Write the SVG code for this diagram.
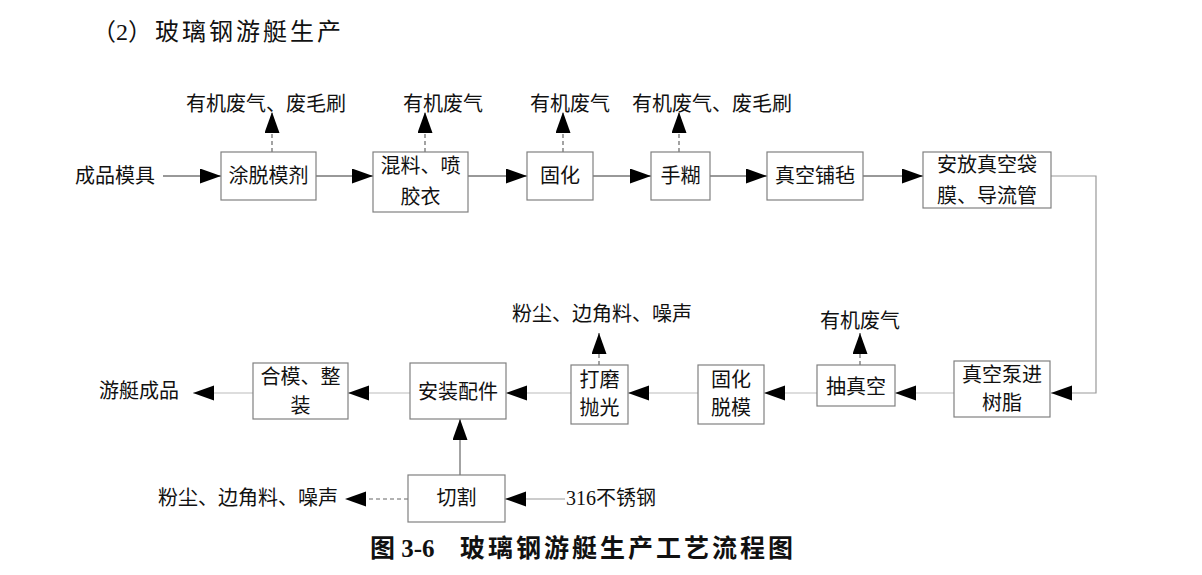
<svg xmlns="http://www.w3.org/2000/svg" width="1202" height="575" viewBox="0 0 1202 575">
<style>
text{font-family:"Liberation Serif","Noto Sans CJK SC",serif;font-size:20px;fill:#111;dominant-baseline:central}
.box{fill:#fff;stroke:#808080;stroke-width:1.2}
.c{text-anchor:middle}
.dk{stroke:#333;stroke-width:1;fill:none}
.lt{stroke:#bbb;stroke-width:1.2;fill:none}
.md{stroke:#999;stroke-width:1.2;fill:none}
.ds{stroke:#666;stroke-width:1.2;fill:none;stroke-dasharray:4 3}
</style>
<defs>
<marker id="ah" markerUnits="userSpaceOnUse" markerWidth="22" markerHeight="16" refX="21" refY="7.5" orient="auto">
<path d="M0,0 L21,7.5 L0,15 z" fill="#000"/>
</marker>
</defs>

<text x="92" y="32" style="font-size:24px">（2）<tspan x="155" style="letter-spacing:3px">玻璃钢游艇生产</tspan></text>

<g id="connectors">
<line class="dk" x1="163" y1="176" x2="221" y2="176" marker-end="url(#ah)"/>
<line class="dk" x1="316" y1="176" x2="373" y2="176" marker-end="url(#ah)"/>
<line class="dk" x1="468" y1="176" x2="527" y2="176" marker-end="url(#ah)"/>
<line class="dk" x1="593" y1="176" x2="651" y2="176" marker-end="url(#ah)"/>
<line class="dk" x1="710" y1="176" x2="767" y2="176" marker-end="url(#ah)"/>
<line class="dk" x1="863" y1="176" x2="923" y2="176" marker-end="url(#ah)"/>
<path class="md" d="M1051,176 H1096 V393 H1051" marker-end="url(#ah)"/>
<line class="lt" x1="954" y1="393" x2="895" y2="393" marker-end="url(#ah)"/>
<line class="lt" x1="817" y1="393" x2="764" y2="393" marker-end="url(#ah)"/>
<line class="lt" x1="698" y1="393" x2="628" y2="393" marker-end="url(#ah)"/>
<line class="lt" x1="571" y1="393" x2="506" y2="393" marker-end="url(#ah)"/>
<line class="lt" x1="410" y1="393" x2="348" y2="393" marker-end="url(#ah)"/>
<line class="lt" x1="253" y1="393" x2="193" y2="393" marker-end="url(#ah)"/>
<line stroke="#666" stroke-width="1.2" x1="460" y1="475" x2="460" y2="419" marker-end="url(#ah)"/>
<line class="md" x1="565" y1="499" x2="505" y2="499" marker-end="url(#ah)"/>
<line class="ds" x1="408" y1="499" x2="345" y2="499" marker-end="url(#ah)"/>
<line class="ds" x1="272" y1="152" x2="272" y2="112" marker-end="url(#ah)"/>
<line class="ds" x1="425" y1="152" x2="425" y2="112" marker-end="url(#ah)"/>
<line class="ds" x1="563" y1="152" x2="563" y2="112" marker-end="url(#ah)"/>
<line class="ds" x1="679" y1="152" x2="679" y2="112" marker-end="url(#ah)"/>
<line class="ds" x1="599" y1="365" x2="599" y2="333" marker-end="url(#ah)"/>
<line class="ds" x1="860" y1="365" x2="860" y2="333" marker-end="url(#ah)"/>
</g>

<g id="labels">
<text x="75" y="176">成品模具</text>
<text x="186" y="104">有机废气、废毛刷</text>
<text x="403" y="104">有机废气</text>
<text x="530" y="104">有机废气</text>
<text x="632" y="104">有机废气、废毛刷</text>
<text x="512" y="314">粉尘、边角料、噪声</text>
<text x="820" y="321">有机废气</text>
<text x="99" y="391">游艇成品</text>
<text x="158" y="498">粉尘、边角料、噪声</text>
<text x="566" y="498">316不锈钢</text>
</g>

<g id="n1"><rect class="box" x="221" y="152" width="95" height="48"/><text class="c" x="268.5" y="176">涂脱模剂</text></g>
<g id="n2"><rect class="box" x="373" y="152" width="95" height="60"/><text class="c" x="420.5" y="166">混料、喷</text><text class="c" x="420.5" y="197">胶衣</text></g>
<g id="n3"><rect class="box" x="527" y="152" width="66" height="48"/><text class="c" x="560" y="176">固化</text></g>
<g id="n4"><rect class="box" x="651" y="152" width="59" height="48"/><text class="c" x="680.5" y="176">手糊</text></g>
<g id="n5"><rect class="box" x="767" y="152" width="96" height="48"/><text class="c" x="815" y="176">真空铺毡</text></g>
<g id="n6"><rect class="box" x="923" y="152" width="128" height="56"/><text class="c" x="987" y="165">安放真空袋</text><text class="c" x="987" y="196">膜、导流管</text></g>
<g id="n7"><rect class="box" x="954" y="361" width="96" height="56"/><text class="c" x="1002" y="375">真空泵进</text><text class="c" x="1002" y="403">树脂</text></g>
<g id="n8"><rect class="box" x="817" y="365" width="78" height="41"/><text class="c" x="856" y="387">抽真空</text></g>
<g id="n9"><rect class="box" x="698" y="365" width="66" height="59"/><text class="c" x="731" y="380">固化</text><text class="c" x="731" y="408">脱模</text></g>
<g id="n10"><rect class="box" x="571" y="365" width="57" height="59"/><text class="c" x="599.5" y="380">打磨</text><text class="c" x="599.5" y="408">抛光</text></g>
<g id="n11"><rect class="box" x="410" y="363" width="96" height="56"/><text class="c" x="458" y="392">安装配件</text></g>
<g id="n12"><rect class="box" x="253" y="363" width="95" height="56"/><text class="c" x="300.5" y="377">合模、整</text><text class="c" x="300.5" y="406">装</text></g>
<g id="n13"><rect class="box" x="408" y="475" width="97" height="47"/><text class="c" x="456.5" y="498">切割</text></g>

<text x="370" y="548" style="font-size:25px;font-weight:bold">图 3-6  <tspan x="460" style="letter-spacing:3px">玻璃钢游艇生产工艺流程图</tspan></text>
</svg>
